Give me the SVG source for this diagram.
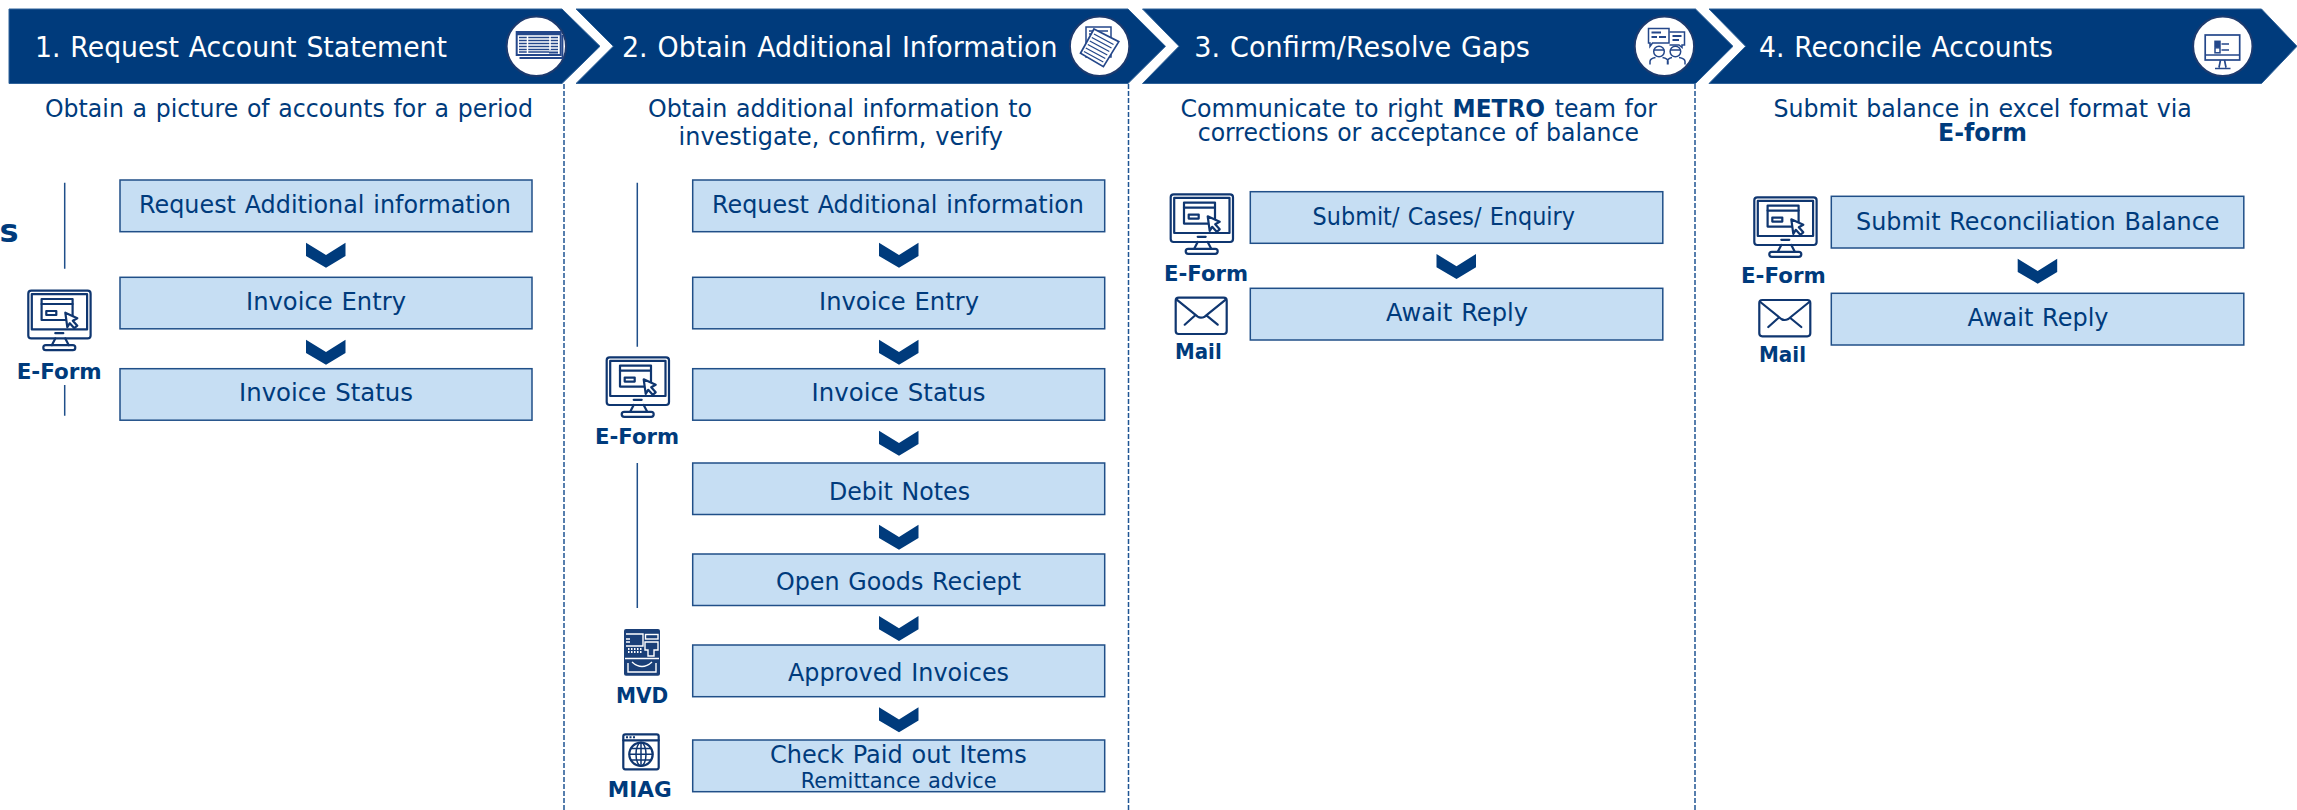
<svg xmlns="http://www.w3.org/2000/svg" width="2297" height="810" viewBox="0 0 2297 810">
<style>
text{font-family:"DejaVu Sans","Liberation Sans",sans-serif;fill:#003b7c;word-spacing:.05em}
.band{fill:#003b7c;stroke:#2f6299;stroke-width:1}
.ttl{font-size:29px;fill:#fff}
.sub{font-size:25px}
.b{font-weight:700}
.box{fill:#c6def3;stroke:#204f88;stroke-width:1.500}
.bt{font-size:25px}
.lbl{font-size:21.500px;font-weight:700;word-spacing:0}
.sep{stroke:#1f5493;stroke-width:1.500;stroke-dasharray:5 2;fill:none}
.vl{stroke:#1f4f8a;stroke-width:1.500;fill:none}
.circ{fill:#fff;stroke:#1c3a6e;stroke-width:2}
.ic{fill:none;stroke:#0f3670;stroke-width:2.200;stroke-linejoin:round;stroke-linecap:round}
.ich{fill:none;stroke:#24478a;stroke-width:1.500}
</style>
<defs>
<path id="arr" d="M-20 0L0 12.300L19.500 0V13.300L0 25L-20 13.300Z" fill="#003b7c"/>
<g id="mon">
<rect class="ic" x="0" y="0" width="62.300" height="47.700" rx="3"/>
<rect class="ic" x="3.500" y="3.500" width="55.300" height="35.200"/>
<path class="ic" d="M27 42.500H35M27 47.700L23.500 54.500M37 47.700L40.500 54.500"/>
<rect class="ic" x="15" y="54.500" width="32" height="5" rx="2.500"/>
<rect class="ic" x="13.300" y="8.300" width="31" height="21"/>
<path class="ic" d="M13.300 13.300H44.300"/>
<rect class="ic" x="18" y="20.300" width="10" height="4"/>
<path class="ic" style="fill:#fff" d="M37 22L49 27.500L44.500 30L49 35L46 37.500L41.500 32.500L39 36.500Z"/>
</g>
<g id="mail">
<rect class="ic" x="0" y="0" width="51" height="36.300" rx="3"/>
<path class="ic" d="M1 2L22 19Q25 21 29 19L50 2M9 27L19 18M42 27L31 18"/>
</g>
</defs>

<g id="separators">
<path class="sep" d="M564 84V810"/>
<path class="sep" d="M1128.500 84V810"/>
<path class="sep" d="M1695 84V810"/>
</g>

<g id="step1">
<path class="band" d="M9 9H562L600 46.300L562 83.500H9Z"/>
<circle class="circ" cx="536.300" cy="46.300" r="29.700"/>
<g class="ich">
<path d="M519.500 58H562.500V35" stroke-width="1.800"/>
<rect x="516.700" y="32" width="44" height="23" fill="#fff" stroke-width="2"/>
<path d="M517 34H560" stroke-width="2.500"/>
<path d="M519 37.500H558M519 40.500H558M519 43.500H558M519 46.500H558M519 49.500H558M519 52H549" stroke-width="1.500"/>
<path d="M527.500 36V53M550 36V50" stroke="#fff" stroke-width="1.500"/>
<path d="M549 52.500H558" stroke-width="2"/>
</g>
<text class="ttl" x="35" y="57" textLength="412" lengthAdjust="spacingAndGlyphs">1. Request Account Statement</text>
<text class="sub" x="45" y="116.700" textLength="488" lengthAdjust="spacingAndGlyphs">Obtain a picture of accounts for a period</text>
</g>

<g id="step2">
<path class="band" d="M576 9H1128L1165.500 46.300L1128 83.500H576L613.300 46.300Z"/>
<circle class="circ" cx="1099.600" cy="46.300" r="29.700"/>
<g class="ich">
<rect x="1086" y="27" width="25" height="30"/>
<path d="M1089 31H1108M1089 34H1096"/>
<path d="M1094 29L1118.800 41.700L1103.400 66.700L1080.500 53.300Z" fill="#fff" stroke-width="1.700"/>
<path d="M1094 34L1113.500 44.500M1091.800 37.500L1111.500 48M1089.800 41L1109.300 51.500M1087.800 44.500L1107.300 55M1085.800 48L1105.300 58.500M1084 51.500L1103.300 62" stroke-width="1.300"/>
</g>
<text class="ttl" x="622" y="57" textLength="435.500" lengthAdjust="spacingAndGlyphs">2. Obtain Additional Information</text>
<text class="sub" y="116.700" x="648" textLength="384" lengthAdjust="spacingAndGlyphs">Obtain additional information to</text>
<text class="sub" y="145.300" x="678.600" textLength="324.200" lengthAdjust="spacingAndGlyphs">investigate, confirm, verify</text>
</g>

<g id="step3">
<path class="band" d="M1142.500 9H1695.500L1733 46.300L1695.500 83.500H1142.500L1179 46.300Z"/>
<circle class="circ" cx="1664.400" cy="46.300" r="29.700"/>
<g class="ich">
<path d="M1648.500 28.500H1669V43H1652.500L1650 46.500V43H1648.500Z"/>
<path d="M1669.500 32H1684.500V45H1682V47.500L1679 45H1669.500"/>
<path d="M1651.500 32.500H1661M1651.500 37H1657M1659 37H1666M1672.500 36H1681.500M1672.500 40H1679" stroke-width="1.800"/>
<circle cx="1659" cy="51.500" r="5.300"/>
<circle cx="1675.400" cy="51.500" r="5.300"/>
<path d="M1653.700 50H1664.300M1670 50H1680.700"/>
<path d="M1650 64.500V61.500Q1650 58.500 1655.500 57.500M1668 64.500V61.500Q1668 58.500 1662.500 57.500M1667.500 64.500V61.500Q1667.500 58.500 1672 57.500M1685 64.500V61.500Q1685 58.500 1679 57.500"/>
</g>
<text class="ttl" x="1194.300" y="57" textLength="335.700" lengthAdjust="spacingAndGlyphs">3. Confirm/Resolve Gaps</text>
<text class="sub" y="116.700"><tspan x="1180.500" textLength="262.500" lengthAdjust="spacingAndGlyphs">Communicate to right</tspan> <tspan class="b" x="1452.600" textLength="92.400" lengthAdjust="spacingAndGlyphs">METRO</tspan> <tspan x="1554.800" textLength="102.200" lengthAdjust="spacingAndGlyphs">team for</tspan></text>
<text class="sub" y="141" x="1197.700" textLength="441.300" lengthAdjust="spacingAndGlyphs">corrections or acceptance of balance</text>
</g>

<g id="step4">
<path class="band" d="M1709 9H2261.500L2297 46.300L2261.500 83.500H1709L1745.600 46.300Z"/>
<circle class="circ" cx="2222.800" cy="46.300" r="29.700"/>
<g class="ich">
<rect x="2205.200" y="35" width="34.500" height="25" stroke-width="1.700"/>
<path d="M2205.200 55H2239.700M2220.500 60L2219 67.500M2224.500 60L2226 67.500M2215 68.500H2230.500" stroke-width="1.700"/>
<rect x="2215" y="41.300" width="5" height="5" fill="#24478a"/>
<rect x="2215" y="47.800" width="5" height="5"/>
<path d="M2221.500 44H2229M2221.500 50H2229"/>
</g>
<text class="ttl" x="1759" y="57" textLength="294" lengthAdjust="spacingAndGlyphs">4. Reconcile Accounts</text>
<text class="sub" y="116.700" x="1773.500" textLength="418.300" lengthAdjust="spacingAndGlyphs">Submit balance in excel format via</text>
<text class="sub b" y="141" x="1938" textLength="89" lengthAdjust="spacingAndGlyphs">E-form</text>
</g>

<g id="clipped-label"><text x="-0.500" y="241.700" font-size="32" font-weight="700">s</text></g>

<g id="connectors">
<path class="vl" d="M64.700 182.700V268.700M64.700 385V415.700M637.300 182.700V346.700M637.300 463V608"/>
<use href="#arr" x="326" y="242.700"/><use href="#arr" x="326" y="339.700"/>
<use href="#arr" x="899" y="242.700"/><use href="#arr" x="899" y="339.700"/><use href="#arr" x="899" y="430.700"/><use href="#arr" x="899" y="524.700"/><use href="#arr" x="899" y="616"/><use href="#arr" x="899" y="707.300"/>
<use href="#arr" x="1456.500" y="254"/>
<use href="#arr" x="2037.700" y="258.700"/>
</g>

<g id="c1-request"><rect class="box" x="120" y="180" width="412" height="51.700"/><text class="bt" x="139" y="213.300" textLength="372" lengthAdjust="spacingAndGlyphs">Request Additional information</text></g>
<g id="c1-entry"><rect class="box" x="120" y="277.300" width="412" height="51.500"/><text class="bt" x="246" y="310" textLength="160" lengthAdjust="spacingAndGlyphs">Invoice Entry</text></g>
<g id="c1-status"><rect class="box" x="120" y="368.700" width="412" height="51.500"/><text class="bt" x="239" y="401" textLength="174" lengthAdjust="spacingAndGlyphs">Invoice Status</text></g>

<g id="c2-request"><rect class="box" x="692.700" y="180" width="412" height="51.700"/><text class="bt" x="712" y="213.300" textLength="372" lengthAdjust="spacingAndGlyphs">Request Additional information</text></g>
<g id="c2-entry"><rect class="box" x="692.700" y="277.300" width="412" height="51.500"/><text class="bt" x="819" y="310" textLength="160" lengthAdjust="spacingAndGlyphs">Invoice Entry</text></g>
<g id="c2-status"><rect class="box" x="692.700" y="368.700" width="412" height="51.500"/><text class="bt" x="811.600" y="401" textLength="174" lengthAdjust="spacingAndGlyphs">Invoice Status</text></g>
<g id="c2-debit"><rect class="box" x="692.700" y="463" width="412" height="51.500"/><text class="bt" x="829" y="499.500" textLength="141" lengthAdjust="spacingAndGlyphs">Debit Notes</text></g>
<g id="c2-goods"><rect class="box" x="692.700" y="554" width="412" height="51.500"/><text class="bt" x="776" y="590" textLength="245" lengthAdjust="spacingAndGlyphs">Open Goods Reciept</text></g>
<g id="c2-approved"><rect class="box" x="692.700" y="645" width="412" height="51.700"/><text class="bt" x="788" y="680.700" textLength="221" lengthAdjust="spacingAndGlyphs">Approved Invoices</text></g>
<g id="c2-paid"><rect class="box" x="692.700" y="740" width="412" height="51.700"/><text class="bt" x="770" y="762.700" textLength="256.700" lengthAdjust="spacingAndGlyphs">Check Paid out Items</text><text x="800.700" y="788.300" font-size="21.500" textLength="196" lengthAdjust="spacingAndGlyphs">Remittance advice</text></g>

<g id="c3-submit"><rect class="box" x="1250.300" y="191.700" width="412.500" height="51.600"/><text class="bt" x="1312.600" y="225" textLength="262.400" lengthAdjust="spacingAndGlyphs">Submit/ Cases/ Enquiry</text></g>
<g id="c3-await"><rect class="box" x="1250.300" y="288.300" width="412.500" height="51.700"/><text class="bt" x="1386" y="321" textLength="142" lengthAdjust="spacingAndGlyphs">Await Reply</text></g>

<g id="c4-submit"><rect class="box" x="1831.300" y="196.300" width="412.500" height="51.700"/><text class="bt" x="1856" y="230" textLength="363.500" lengthAdjust="spacingAndGlyphs">Submit Reconciliation Balance</text></g>
<g id="c4-await"><rect class="box" x="1831.300" y="293.300" width="412.500" height="51.700"/><text class="bt" x="1967.500" y="326" textLength="141" lengthAdjust="spacingAndGlyphs">Await Reply</text></g>

<g id="eform1"><use href="#mon" x="28.300" y="290.700"/><text class="lbl" x="16.700" y="379" textLength="85" lengthAdjust="spacingAndGlyphs">E-Form</text></g>
<g id="eform2"><use href="#mon" x="606.700" y="357.300"/><text class="lbl" x="595" y="443.500" textLength="84" lengthAdjust="spacingAndGlyphs">E-Form</text></g>
<g id="eform3"><use href="#mon" x="1170.700" y="194.300"/><text class="lbl" x="1164" y="280.700" textLength="84" lengthAdjust="spacingAndGlyphs">E-Form</text></g>
<g id="mail3"><use href="#mail" x="1175.700" y="297.700"/><text class="lbl" x="1175" y="359.300" textLength="46.700" lengthAdjust="spacingAndGlyphs">Mail</text></g>
<g id="eform4"><use href="#mon" x="1754.300" y="197.300"/><text class="lbl" x="1741" y="282.700" textLength="84.700" lengthAdjust="spacingAndGlyphs">E-Form</text></g>
<g id="mail4"><use href="#mail" x="1759.300" y="300"/><text class="lbl" x="1759" y="362.300" textLength="47" lengthAdjust="spacingAndGlyphs">Mail</text></g>

<g id="mvd">
<rect x="624" y="629" width="36" height="46.700" rx="2" fill="#1a3f78"/>
<g fill="none" stroke="#fff" stroke-width="1.400">
<path d="M626 634H643V646H626"/>
<path d="M626 639H630M626 642H630"/>
<rect x="645.500" y="634.500" width="12.500" height="4.500"/>
<path d="M645 642H658V650H654V656H648V650H645Z"/>
<path d="M625 658.500H659"/>
<path d="M628 663V672H656V663M632 662Q642 671 652 662"/>
<path d="M628 649H642M628 652H642" stroke-dasharray="1.500 1.500" stroke-width="2"/>
</g>
<text class="lbl" x="616" y="703.300" textLength="52.300" lengthAdjust="spacingAndGlyphs">MVD</text>
</g>

<g id="miag">
<rect class="ic" x="623.300" y="734.300" width="35.400" height="35" rx="2"/>
<path class="ic" d="M623.300 740.300H658.700"/>
<path d="M626 737.300H635" stroke="#0f3670" stroke-width="2" stroke-dasharray="2 1.500"/>
<circle class="ic" cx="641" cy="754.300" r="11.700"/>
<ellipse class="ic" cx="641" cy="754.300" rx="5" ry="11.700" style="stroke-width:1.500"/>
<path class="ic" d="M641 742.600V766M629.300 754.300H652.700M631 748.500H651M631 760H651" style="stroke-width:1.500"/>
<text class="lbl" x="607.700" y="797.300" textLength="64" lengthAdjust="spacingAndGlyphs">MIAG</text>
</g>
</svg>
